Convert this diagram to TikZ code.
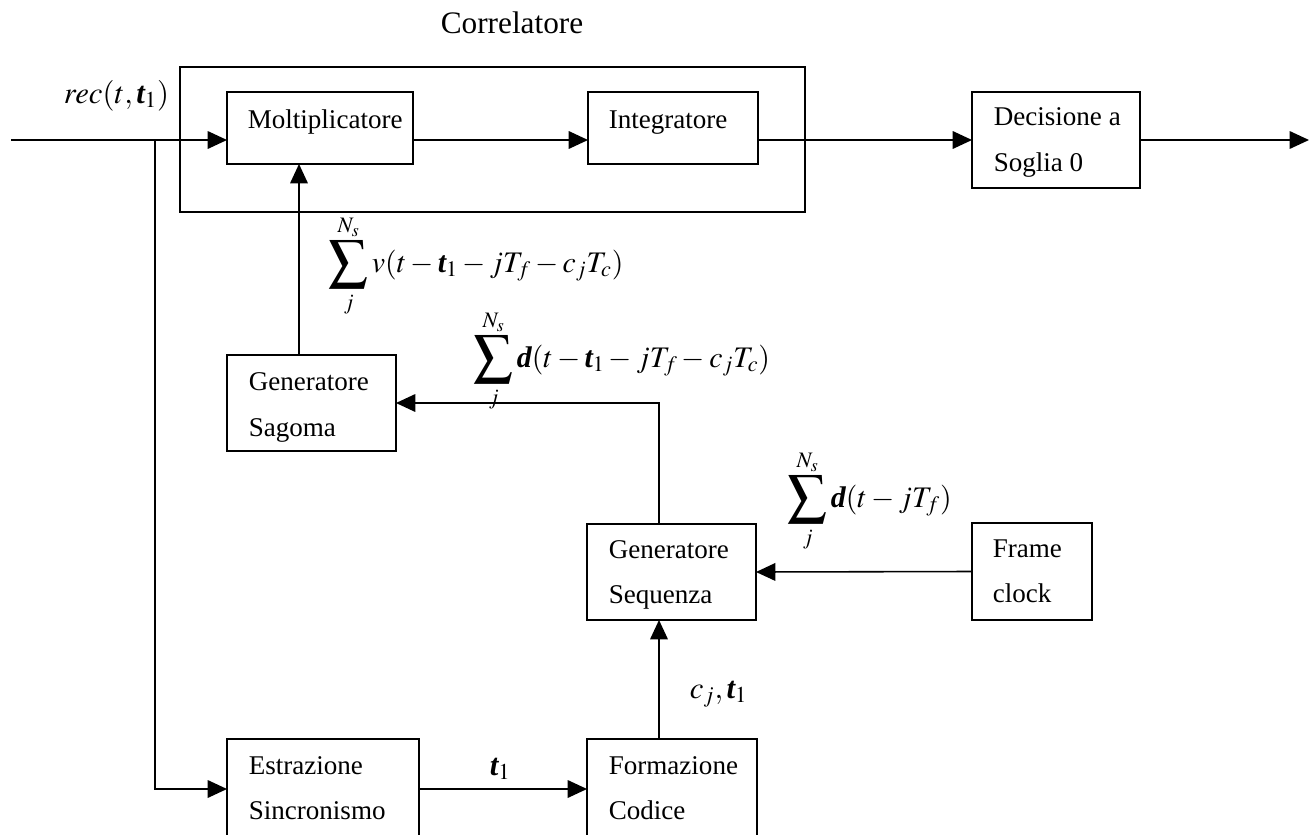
\documentclass[tikz,border=0pt]{standalone}
\usepackage{amsmath}
\usepackage{graphicx}
\usepackage{mathptmx}
\usepackage{fontspec}
\setmainfont{Liberation Serif}
\usetikzlibrary{arrows.meta,calc}
\newcommand{\bt}{\mbox{\bfseries\itshape t}}
\newcommand{\bd}{\mbox{\bfseries\itshape d}}
\newcommand{\bigsum}{\mathop{\vcenter{\hbox{\scalebox{1.3}{$\displaystyle\sum$}}}}\limits}
\newcommand{\Sumj}{\bigsum_{\rule{0pt}{9pt}j}^{\rule[-2.5pt]{0pt}{2.5pt}N_s}}
\begin{document}
\begin{tikzpicture}[x=0.02cm,y=-0.02cm,line width=0.9pt,
  box/.style={draw,inner sep=0pt,outer sep=0pt,line width=0.9pt},
  txt/.style={anchor=base west,inner sep=0pt,font=\fontsize{15.4}{18}\selectfont},
  mth/.style={anchor=base west,inner sep=0pt,font=\fontsize{17}{20}\selectfont},
  arr/.style={-{Triangle[length=11pt,width=10pt]}}]
\useasboundingbox (0,0) rectangle (1316,835);
\clip (0,0) rectangle (1316,835);
% boxes
\node[box,minimum width=12.5cm,minimum height=2.9cm] (corr) at (492.5,139.5) {};
\node[box,minimum width=3.72cm,minimum height=1.44cm] (molt) at (320,128) {};
\node[box,minimum width=3.4cm,minimum height=1.44cm] (integ) at (673,128) {};
\node[box,minimum width=3.36cm,minimum height=1.92cm] (dec) at (1056,140) {};
\node[box,minimum width=3.38cm,minimum height=1.92cm] (sag) at (311.5,403) {};
\node[box,minimum width=3.38cm,minimum height=1.92cm] (seq) at (671.5,572) {};
\node[box,minimum width=2.4cm,minimum height=1.94cm] (frame) at (1032,571.5) {};
\node[box,minimum width=3.84cm,minimum height=2.0cm] (estr) at (323,789) {};
\node[box,minimum width=3.4cm,minimum height=2.0cm] (form) at (672,789) {};
% texts
\node[txt,font=\fontsize{17.8}{20}\selectfont] (tcorr) at (440,33) {Correlatore};
\node[txt] (tmolt) at (247,128) {Moltiplicatore};
\node[txt] (tinteg) at (608,128) {Integratore};
\node[txt] (tdec1) at (993,125) {Decisione a};
\node[txt] (tdec2) at (993,171) {Soglia 0};
\node[txt] (tsag1) at (248,390) {Generatore};
\node[txt] (tsag2) at (248,436) {Sagoma};
\node[txt] (tseq1) at (608,558) {Generatore};
\node[txt] (tseq2) at (608,603) {Sequenza};
\node[txt] (tfr1) at (992,557) {Frame};
\node[txt] (tfr2) at (992,602) {clock};
\node[txt] (test1) at (248,774) {Estrazione};
\node[txt] (test2) at (248,819) {Sincronismo};
\node[txt] (tform1) at (608,774) {Formazione};
\node[txt] (tform2) at (608,819) {Codice};
% math labels
\node[mth,font=\fontsize{17.5}{20}\selectfont] (lrec) at (63,103) {$rec(t,\bt_1)$};
\node[mth] (lv) at (328,272) {$\displaystyle\Sumj v(t-\bt_1-jT_f-c_jT_c)$};
\node[mth] (ld1) at (473,367) {$\displaystyle\Sumj \bd(t-\bt_1-jT_f-c_jT_c)$};
\node[mth] (ld2) at (787,507) {$\displaystyle\Sumj \bd(t-jT_f)$};
\node[mth,font=\fontsize{17.5}{20}\selectfont] (lc) at (689,698) {$c_j,\bt_1$};
\node[mth,font=\fontsize{17.5}{20}\selectfont] (lt) at (489,775) {$\bt_1$};
% coordinates
\coordinate (in) at (11,140);
\coordinate (br) at (155,140);
\coordinate (out) at (1309,140);
\coordinate (fx) at (659,0);
\coordinate (gx) at (299,0);
% connectors
\draw[arr] (in) -- (molt.west |- in);
\draw[arr] (molt.east |- in) -- (integ.west |- in);
\draw[arr] (integ.east |- in) -- (dec.west);
\draw[arr] (dec.east) -- (out);
\draw[arr] (br) |- (estr.west);
\draw[arr] (estr.east) -- (form.west);
\draw[arr] (form.north -| fx) -- (seq.south -| fx);
\draw[arr] (frame.west) -- (seq.east);
\draw[arr] (seq.north -| fx) |- (sag.east);
\draw[arr] (sag.north -| gx) -- (molt.south -| gx);
\end{tikzpicture}
\end{document}
